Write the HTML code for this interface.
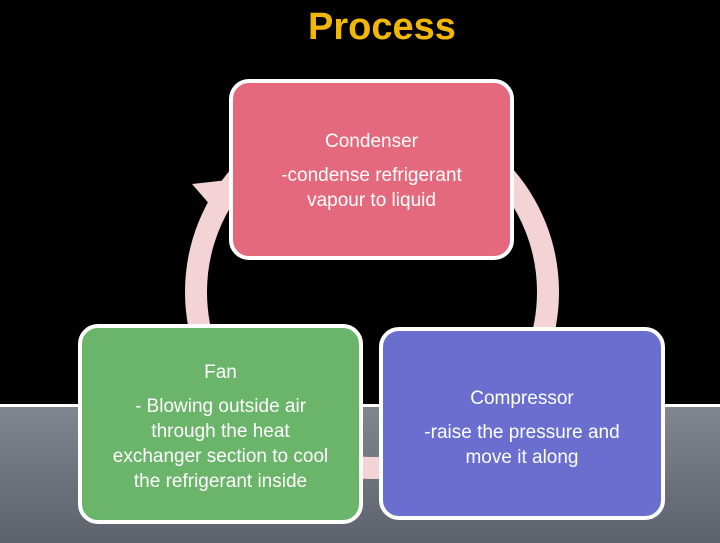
<!DOCTYPE html>
<html><head><meta charset="utf-8"><style>
body{margin:0;width:720px;height:540px;overflow:hidden;background:#000;font-family:"Liberation Sans",sans-serif;position:relative}
.gray{position:absolute;left:0;top:404px;width:720px;height:136px;background:linear-gradient(#80858f,#5d616b);border-top:3px solid #fff}
.title{position:absolute;left:0;width:764px;top:6px;text-align:center;color:#f2b705;font-weight:bold;font-size:38px}
.box{position:absolute;border:4px solid #fff;border-radius:20px;color:#fff;text-align:center;font-size:19px;line-height:25px;box-sizing:border-box}
svg{position:absolute;left:0;top:0}
</style></head><body>
<div class="gray"></div>
<div class="title">Process</div>
<svg width="720" height="540"><circle cx="372" cy="292" r="176" fill="none" stroke="#f4d3d6" stroke-width="22"/>
<polygon points="192,184 228,180 218,214" fill="#f4d3d6"/></svg>
<div class="box" style="left:229px;top:79px;width:285px;height:181px;background:#e5697d;padding-top:46px">Condenser<div style="margin-top:9px">-condense refrigerant<br>vapour to liquid</div></div>
<div class="box" style="left:78px;top:324px;width:285px;height:200px;background:#6bb56b;padding-top:32px">Fan<div style="margin-top:9px">- Blowing outside air<br>through the heat<br>exchanger section to cool<br>the refrigerant inside</div></div>
<div class="box" style="left:379px;top:327px;width:286px;height:193px;background:#6a6fcf;padding-top:55px">Compressor<div style="margin-top:9px">-raise the pressure and<br>move it along</div></div>
</body></html>
